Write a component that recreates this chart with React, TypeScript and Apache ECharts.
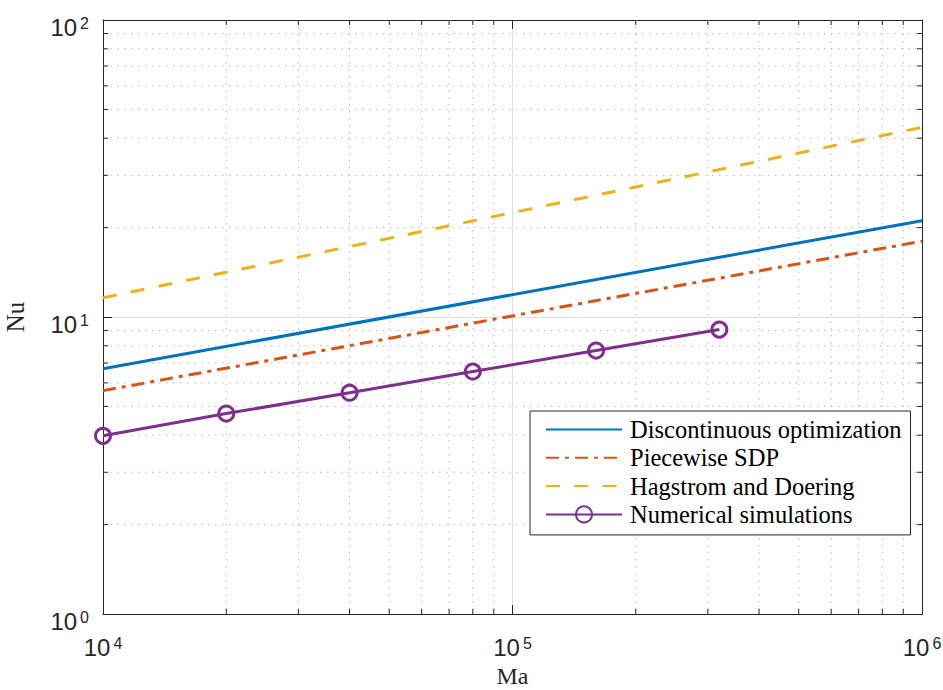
import React, { useEffect, useRef } from 'react';
import * as echarts from 'echarts';

// Axis extents (log scales)
const maRange = [1e4, 1e6];
const nuRange = [1, 100];

// Bounds and simulation results, Nu against Ma
const discontinuousMa = [1e4, 1e6];
const discontinuousNu = [6.7, 21.1];
const piecewiseMa = [1e4, 1e6];
const piecewiseNu = [5.65, 18.0];
const hagstromMa = [1e4, 1e6];
const hagstromNu = [11.6, 43.5];
const simulationMa = [1e4, 2e4, 4e4, 8e4, 1.6e5, 3.2e5];
const simulationNu = [3.98, 4.73, 5.56, 6.55, 7.71, 9.07];

const seriesNames = [
  'Discontinuous optimization',
  'Piecewise SDP',
  'Hagstrom and Doering',
  'Numerical simulations',
];
const seriesColors = ['#0072BD', '#D95319', '#EDB120', '#7E2F8E'];

// Minor grid positions inside each decade
const minorMa = [2e4, 3e4, 4e4, 5e4, 6e4, 7e4, 8e4, 9e4, 2e5, 3e5, 4e5, 5e5, 6e5, 7e5, 8e5, 9e5];
const minorNu = [2, 3, 4, 5, 6, 7, 8, 9, 20, 30, 40, 50, 60, 70, 80, 90];

const zip = (xs: number[], ys: number[]) => xs.map((x, i) => [x, ys[i]]);

const axisColor = '#262626';
const tickFont = 'Liberation Sans, Arial, sans-serif';
const serifFont = 'Liberation Serif, Times New Roman, serif';

const powerRich = {
  b: { fontFamily: tickFont, fontSize: 24, color: axisColor },
  s: { fontFamily: tickFont, fontSize: 16, color: axisColor, verticalAlign: 'top', padding: [0, 0, 0, 3] },
};
const powerFormatter = (v: number) => `{b|10}{s|${Math.round(Math.log10(v))}}`;

export default function App() {
  const ref = useRef<HTMLDivElement>(null);

  useEffect(() => {
    if (!ref.current) return;
    const chart = echarts.init(ref.current, undefined, { renderer: 'svg' });

    const minorData = [
      ...minorMa.map((v) => [v, nuRange[0], 0]),
      ...minorNu.map((v) => [maRange[0], v, 1]),
    ];

    const option: any = {
      animation: false,
      backgroundColor: '#fff',
      grid: { left: 103, right: 21, top: 20, bottom: 76, outerBoundsMode: 'none', containLabel: false },
      xAxis: [
        {
          type: 'log',
          logBase: 10,
          min: maRange[0],
          max: maRange[1],
          name: 'Ma',
          nameLocation: 'middle',
          nameGap: 50,
          nameTextStyle: { fontFamily: serifFont, fontSize: 24, color: axisColor },
          axisLine: { show: true, onZero: false, lineStyle: { color: axisColor, width: 1 } },
          axisTick: { show: true, inside: true, length: 9, lineStyle: { color: axisColor } },
          axisLabel: { formatter: powerFormatter, rich: powerRich, margin: 21 },
          splitLine: { show: true, lineStyle: { color: '#dedede', width: 1 } },
          minorTick: { show: false },
        },
        {
          type: 'log',
          logBase: 10,
          min: maRange[0],
          max: maRange[1],
          position: 'top',
          axisLine: { show: true, onZero: false, lineStyle: { color: axisColor, width: 1 } },
          axisTick: { show: true, inside: true, length: 9, lineStyle: { color: axisColor } },
          axisLabel: { show: false },
          splitLine: { show: false },
        },
      ],
      yAxis: [
        {
          type: 'log',
          logBase: 10,
          min: nuRange[0],
          max: nuRange[1],
          name: 'Nu',
          nameLocation: 'middle',
          nameGap: 75,
          nameRotate: 90,
          nameTextStyle: { fontFamily: serifFont, fontSize: 25, color: axisColor },
          axisLine: { show: true, onZero: false, lineStyle: { color: axisColor, width: 1 } },
          axisTick: { show: true, inside: true, length: 9, lineStyle: { color: axisColor } },
          axisLabel: { formatter: powerFormatter, rich: powerRich, margin: 14, padding: [14, 0, 0, 0] },
          splitLine: { show: true, lineStyle: { color: '#dedede', width: 1 } },
        },
        {
          type: 'log',
          logBase: 10,
          min: nuRange[0],
          max: nuRange[1],
          position: 'right',
          axisLine: { show: true, onZero: false, lineStyle: { color: axisColor, width: 1 } },
          axisTick: { show: true, inside: true, length: 9, lineStyle: { color: axisColor } },
          axisLabel: { show: false },
          splitLine: { show: false },
        },
      ],
      legend: {
        orient: 'vertical',
        left: 530,
        top: 411,
        // only the simulation entry carries a marker
        data: seriesNames.map((name, i) => (i < 3 ? { name, itemStyle: { opacity: 0 } } : { name })),
        itemWidth: 76,
        itemHeight: 20,
        itemGap: 3.3,
        padding: [6, 9, 8, 15],
        backgroundColor: '#fff',
        borderColor: axisColor,
        borderWidth: 1,
        borderRadius: 0,
        textStyle: { fontFamily: serifFont, fontSize: 24.5, color: '#000', padding: [0, 0, 0, 3] },
      },
      series: [
        {
          // Dotted minor grid and minor ticks on all four sides
          type: 'custom',
          xAxisIndex: 0,
          yAxisIndex: 0,
          silent: true,
          z: 1,
          data: minorData,
          encode: { x: 0, y: 1 },
          renderItem: (params: any, api: any) => {
            const cs = params.coordSys;
            const kind = api.value(2);
            const grid = { stroke: '#b8b8b8', lineWidth: 1, lineDash: [1.5, 5.5], fill: null };
            const tick = { stroke: axisColor, lineWidth: 1, fill: null };
            if (kind === 0) {
              const px = api.coord([api.value(0), nuRange[0]])[0];
              const top = cs.y;
              const bottom = cs.y + cs.height;
              return {
                type: 'group',
                children: [
                  { type: 'line', shape: { x1: px, y1: top, x2: px, y2: bottom }, style: grid },
                  { type: 'line', shape: { x1: px, y1: bottom, x2: px, y2: bottom - 5 }, style: tick },
                  { type: 'line', shape: { x1: px, y1: top, x2: px, y2: top + 5 }, style: tick },
                ],
              };
            }
            const py = api.coord([maRange[0], api.value(1)])[1];
            const left = cs.x;
            const right = cs.x + cs.width;
            return {
              type: 'group',
              children: [
                { type: 'line', shape: { x1: left, y1: py, x2: right, y2: py }, style: grid },
                { type: 'line', shape: { x1: left, y1: py, x2: left + 5, y2: py }, style: tick },
                { type: 'line', shape: { x1: right, y1: py, x2: right - 5, y2: py }, style: tick },
              ],
            };
          },
        },
        {
          name: seriesNames[0],
          type: 'line',
          z: 3,
          data: zip(discontinuousMa, discontinuousNu),
          symbol: 'none',
          lineStyle: { color: seriesColors[0], width: 3 },
          itemStyle: { color: seriesColors[0] },
        },
        {
          name: seriesNames[1],
          type: 'line',
          z: 3,
          data: zip(piecewiseMa, piecewiseNu),
          symbol: 'none',
          lineStyle: { color: seriesColors[1], width: 3, type: [13, 6, 4, 6] },
          itemStyle: { color: seriesColors[1] },
        },
        {
          name: seriesNames[2],
          type: 'line',
          z: 3,
          data: zip(hagstromMa, hagstromNu),
          symbol: 'none',
          lineStyle: { color: seriesColors[2], width: 3, type: [14, 14.3] },
          itemStyle: { color: seriesColors[2] },
        },
        {
          name: seriesNames[3],
          type: 'line',
          z: 4,
          data: zip(simulationMa, simulationNu),
          symbol: 'circle',
          symbolSize: 15,
          showSymbol: true,
          lineStyle: { color: seriesColors[3], width: 3 },
          itemStyle: { color: 'rgba(255,255,255,0)', borderColor: seriesColors[3], borderWidth: 3 },
        },
      ],
    };

    chart.setOption(option);
    return () => chart.dispose();
  }, []);

  return <div ref={ref} style={{ width: 943, height: 690, position: 'absolute', left: 0, top: 0 }} />;
}
